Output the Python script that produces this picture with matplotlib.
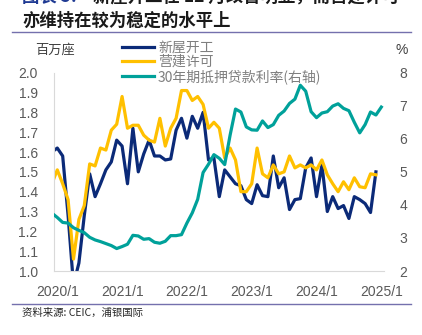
import matplotlib
matplotlib.use('Agg')
import matplotlib.pyplot as plt
from matplotlib.lines import Line2D

plt.rcParams['font.family'] = ['Noto Sans CJK SC', 'DejaVu Sans']

# 月份序号: -1 = 2019/12, 0 = 2020/1 ... 59 = 2024/12, 60 = 2025/1
meses = list(range(-1, 60))
meses_juros = list(range(-1, 61))

# 新屋开工 (百万座)
xinwu = [1.60, 1.62, 1.58, 1.28, 0.93, 1.04, 1.28, 1.49, 1.375, 1.44, 1.51, 1.55, 1.66,
         1.63, 1.44, 1.72, 1.50, 1.59, 1.66, 1.58, 1.58, 1.56, 1.565, 1.71, 1.77,
         1.67, 1.78, 1.72, 1.80, 1.56, 1.57, 1.375, 1.51, 1.475, 1.44, 1.43, 1.36,
         1.34, 1.435, 1.38, 1.375, 1.58, 1.42, 1.47, 1.31, 1.36, 1.365, 1.52, 1.57,
         1.375, 1.535, 1.30, 1.375, 1.315, 1.33, 1.265, 1.375, 1.36, 1.34, 1.295, 1.50]

# 营建许可 (百万座)
xuke = [1.44, 1.51, 1.44, 1.36, 1.06, 1.26, 1.33, 1.54, 1.53, 1.62, 1.61, 1.71, 1.74,
        1.88, 1.72, 1.735, 1.735, 1.685, 1.66, 1.65, 1.77, 1.63, 1.72, 1.77, 1.91,
        1.91, 1.86, 1.88, 1.84, 1.72, 1.75, 1.72, 1.57, 1.62, 1.56, 1.40, 1.40,
        1.44, 1.62, 1.49, 1.47, 1.535, 1.49, 1.50, 1.58, 1.52, 1.535, 1.52, 1.535,
        1.51, 1.56, 1.485, 1.44, 1.40, 1.45, 1.41, 1.47, 1.425, 1.42, 1.49, 1.485]

# 30年期抵押贷款利率 (%)
juros = [3.75, 3.62, 3.47, 3.45, 3.31, 3.23, 3.16, 3.02, 2.94, 2.89, 2.83, 2.77, 2.68,
         2.74, 2.81, 3.08, 3.06, 2.96, 2.98, 2.87, 2.84, 2.90, 3.07, 3.07, 3.10,
         3.45, 3.76, 4.17, 4.98, 5.23, 5.52, 5.41, 5.22, 6.11, 6.90, 6.81, 6.36,
         6.27, 6.26, 6.54, 6.34, 6.43, 6.71, 6.84, 7.07, 7.20, 7.62, 7.44, 6.82,
         6.64, 6.78, 6.82, 6.99, 7.06, 6.92, 6.85, 6.50, 6.18, 6.43, 6.81, 6.72, 6.96]

ticks_x = [0, 12, 24, 36, 48, 60]
rotulos_x = ['2020/1', '2021/1', '2022/1', '2023/1', '2024/1', '2025/1']

azul = '#0b2a78'
amarelo = '#ffc000'
verde = '#00a19a'
cinza = '#595959'

fig = plt.figure(figsize=(4.22, 3.35), dpi=100)
ax1 = fig.add_axes([0.1287, 0.191, 0.7813, 0.592])

l1 = ax1.plot(meses, xinwu, color=azul, lw=2.3, label='新屋开工')
l2 = ax1.plot(meses, xuke, color=amarelo, lw=2.3, label='营建许可')
ax1.set_xlim(-0.55, 60.5)
ax1.set_ylim(1.0, 2.0)
ax1.set_yticks([1.0 + 0.1 * i for i in range(11)])
ax1.set_yticklabels(['%.1f' % (1.0 + 0.1 * i) for i in range(11)])
ax1.set_xticks(ticks_x)
ax1.set_xticklabels(rotulos_x)

ax2 = ax1.twinx()
l3 = ax2.plot(meses_juros, juros, color=verde, lw=2.3, label='30年期抵押贷款利率(右轴)')
ax2.set_ylim(2, 8)
ax2.set_yticks(range(2, 9))

for a in (ax1, ax2):
    for s in a.spines.values():
        s.set_visible(False)
    a.tick_params(length=0, labelsize=10, labelcolor=cinza)
    for t in a.get_xticklabels() + a.get_yticklabels():
        t.set_family(['Liberation Sans', 'DejaVu Sans'])
ax1.spines['left'].set_visible(True)
ax1.spines['bottom'].set_visible(True)
ax1.spines['left'].set_color('#d9d9d9')
ax1.spines['bottom'].set_color('#d9d9d9')
ax1.tick_params(axis='y', pad=12)
ax1.tick_params(axis='x', pad=10)
ax2.tick_params(axis='y', pad=11)

# legenda sem moldura
linhas = l1 + l2 + l3
fig.legend(linhas, [l.get_label() for l in linhas], loc='upper left',
           bbox_to_anchor=(0.289, 0.878), frameon=False, fontsize=10,
           labelcolor='#7f7f7f', handlelength=2.3, handletextpad=0.3,
           labelspacing=0.0, borderpad=0, borderaxespad=0)

fig.text(0.13, 0.851, '百万座', fontsize=9.5, color='#404040', ha='center', va='center')
fig.text(0.953, 0.851, '%', fontsize=10, color='#404040', ha='center', va='center',
         family=['Liberation Sans', 'DejaVu Sans'])

# título (primeira linha cortada em cima)
fig.text(22 / 422, 1 + 3 / 335, '图表 5:', fontsize=12.5, weight='bold', color='#1f3a93', va='center')
fig.text(93 / 422, 1 + 3 / 335, '新屋开工在 12 月改善明显，而营建许可', fontsize=12.5, weight='bold',
         color='#1a1a1a', va='center')
fig.text(22 / 422, 1 - 21 / 335, '亦维持在较为稳定的水平上', fontsize=12.5, weight='bold',
         color='#1a1a1a', va='center')

fig.add_artist(Line2D([12 / 422, 411 / 422], [1 - 31.5 / 335] * 2, color='#7470ad', lw=1))
fig.add_artist(Line2D([12 / 422, 411 / 422], [1 - 304 / 335] * 2, color='#7470ad', lw=1))

fig.text(22 / 422, 1 - 313 / 335, '资料来源: CEIC，浦银国际', fontsize=7.5, color='#262626', va='center')

plt.savefig('out.png', dpi=100)
